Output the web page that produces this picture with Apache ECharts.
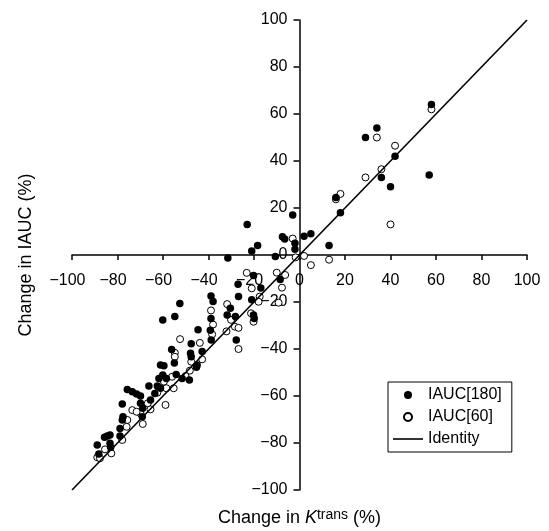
<!DOCTYPE html>
<html>
<head>
<meta charset="utf-8">
<script src="https://cdn.jsdelivr.net/npm/echarts@6/dist/echarts.min.js"></script>
<style>html,body{margin:0;padding:0;background:#fff}#c{width:549px;height:531px}</style>
</head>
<body>
<div id="c"></div>
<script>
// IAUC[180] (filled): [change in Ktrans %, change in IAUC %]
var iauc180 = [
 [58,64],[34,54],[29,50],[42,42],[36,33],[57,34],[40,29],[16,24.5],[18,18],[-3,17],[5,9],[2,8],[13,4],[-2,5],[-2,2.5],
 [-23,13],[-21,1.7],[-18.4,4],[-7.5,7.8],[-6.5,6.8],[-31.5,-1.3],[-10.6,-0.6],[-8.5,-10.4],[-20.2,-8.7],[-17,-14],
 [-27,-12.4],[-21,-19],[-30.4,-22.7],[-26.8,-17.7],[-31.8,-25.5],[-28.2,-26.2],[-20.2,-25.5],[-19.9,-27],[-27.8,-36.2],
 [-38.9,-17.4],[-38,-19.8],[-38.9,-27],[-39.2,-32],[-38.8,-36.2],[-44.6,-31.8],[-47.6,-37.8],[-52.6,-20.6],[-54.8,-26.2],
 [-60.1,-27.7],[-56.2,-40.2],[-55,-46],[-47.9,-41.8],[-47.6,-43.3],[-45,-46.8],[-42.8,-41.1],[-45.3,-47.8],[-48.4,-53.2],
 [-51.6,-52.5],[-54.2,-50.8],[-61.1,-46.8],[-59.6,-47.1],[-61.8,-52.5],[-60.1,-51.1],[-58.5,-52.5],[-62.5,-55.7],
 [-61.1,-56.7],[-63.6,-58.9],[-66.2,-55.7],[-65.5,-61.7],[-69.9,-60],[-69.9,-63.1],[-68.9,-65.2],[-69.1,-68.8],
 [-75.7,-57.2],[-73.5,-58.2],[-71.6,-59.1],[-77.9,-63.4],[-77.6,-68.8],[-77.9,-70.2],[-78.9,-73.8],[-78.9,-77],
 [-84.5,-77],[-85.7,-77.6],[-83.3,-76.6],[-83.3,-80.1],[-83,-81.8],[-88.9,-80.9],[-88.2,-84.7]
];
// IAUC[60] (open)
var iauc60 = [
 [58,62],[34,50],[42,46.5],[36,36.5],[29,33],[18,26],[16,23.7],[40,13],[-3,7],[2,-0.4],[13,-2],[5,-4.3],[-1.7,-1],
 [-23.2,-7.6],[-10,-7.5],[-6.3,-8.5],[-7.7,-13.9],[-21,-14.2],[-17.5,-17.7],[-18,-19.9],[-9.2,-20.3],[-31.8,-20.9],
 [-21.3,-24.8],[-20.2,-28.4],[-30.1,-27.6],[-28.4,-30.5],[-26.8,-31],[-32.1,-32.5],[-26.8,-40],[-38.9,-23.6],[-38,-29.6],
 [-38.4,-33.8],[-43.8,-37.4],[-52.5,-35.8],[-54.8,-41.6],[-54.8,-43.3],[-47.6,-45.4],[-42.8,-44.4],[-48.2,-49.2],
 [-56,-51.8],[-50.1,-51.5],[-59.6,-53.9],[-58.5,-56.7],[-55.3,-56.7],[-62.5,-58.6],[-58.9,-63.8],[-66.7,-63.1],
 [-65.5,-65.7],[-69.9,-67.4],[-68.9,-71.9],[-73.5,-66],[-71.6,-66.7],[-75.7,-70.2],[-76,-73.1],[-77.9,-78.7],
 [-85.5,-82.7],[-82.7,-84.4],[-88.9,-86.1],[-87.7,-86.5]
];
var identity = [[-100,-100],[100,100]];
var axisMin = -100, axisMax = 100, axisStep = 20;
var seriesNames = ['IAUC[180]','IAUC[60]','Identity'];

var FONT = 'Liberation Sans, Arial, Helvetica, sans-serif';
function fmt(v){ return v < 0 ? '{n|\u2212' + Math.abs(v) + '}' : '{p|' + v + '}'; }
function fmtY(v){ return v < 0 ? '\u2212' + Math.abs(v) : String(v); }

var GL = 72, GR = 22, GT = 20, GB = 41, W = 549, H = 531;
var chart = echarts.init(document.getElementById('c'));
chart.setOption({
  animation: false,
  backgroundColor: '#fff',
  grid: {left: GL, right: GR, top: GT, bottom: GB, containLabel: false, outerBoundsMode: 'none'},
  xAxis: {
    type: 'value', min: axisMin, max: axisMax, interval: axisStep,
    position: 'bottom', offset: -((H - GB - GT) / 2),
    axisLine: {onZero: false, lineStyle: {color: '#000', width: 1.5}},
    axisTick: {show: true, length: 5, lineStyle: {color: '#000', width: 1.5}},
    splitLine: {show: false},
    axisLabel: {margin: 18, color: '#000', fontSize: 16, fontFamily: FONT, formatter: fmt,
      hideOverlap: false, showMinLabel: true, showMaxLabel: true,
      rich: {n: {fontSize: 16, fontFamily: FONT, color: '#000', padding: [0, 9, 0, 0]},
             p: {fontSize: 16, fontFamily: FONT, color: '#000'}}},
    name: '{a|Change in }{k|K}{s|trans}{a| (%)}',
    nameLocation: 'middle', nameGap: 253,
    nameTextStyle: {rich: {
      a: {fontSize: 18, fontFamily: FONT, color: '#000'},
      k: {fontSize: 18, fontFamily: FONT, fontStyle: 'italic', color: '#000'},
      s: {fontSize: 14, fontFamily: FONT, color: '#000', verticalAlign: 'top', padding: [0, 0, 6, 0]}
    }}
  },
  yAxis: {
    type: 'value', min: axisMin, max: axisMax, interval: axisStep,
    position: 'left', offset: -((W - GL - GR) / 2),
    axisLine: {onZero: false, lineStyle: {color: '#000', width: 1.5}},
    axisTick: {show: true, length: 6, lineStyle: {color: '#000', width: 1.5}},
    splitLine: {show: false},
    axisLabel: {margin: 12, color: '#000', fontSize: 16, fontFamily: FONT, formatter: fmtY,
      hideOverlap: false, showMinLabel: true, showMaxLabel: true},
    name: 'Change in IAUC (%)',
    nameLocation: 'middle', nameGap: 264,
    nameTextStyle: {fontSize: 18, fontFamily: FONT, color: '#000'}
  },
  legend: {
    data: [
      {name: seriesNames[0], icon: 'circle'},
      {name: seriesNames[1], icon: 'circle'},
      {name: seriesNames[2], icon: 'path://M0,0H30V1.6H0Z'}
    ],
    orient: 'vertical', left: 388, top: 382,
    borderColor: '#000', borderWidth: 1, borderRadius: 0,
    padding: [5, 10, 5, 5], itemWidth: 30, itemHeight: 8, itemGap: 6,
    textStyle: {fontSize: 16, fontFamily: FONT, color: '#000'}
  },
  series: [
    {name: seriesNames[1], type: 'scatter', data: iauc60, symbol: 'circle', symbolSize: 7,
     itemStyle: {color: '#fff', borderColor: '#000', borderWidth: 1, opacity: 1}, z: 3},
    {name: seriesNames[0], type: 'scatter', data: iauc180, symbol: 'circle', symbolSize: 7.5,
     itemStyle: {color: '#000', opacity: 1}, z: 4},
    {name: seriesNames[2], type: 'line', data: identity, symbol: 'none', showSymbol: false,
     lineStyle: {color: '#000', width: 1.6}, itemStyle: {color: '#000'}, z: 5}
  ]
});
</script>
</body>
</html>
